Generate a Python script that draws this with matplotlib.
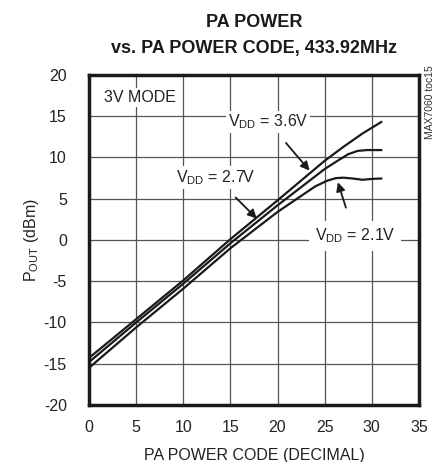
import matplotlib
matplotlib.use("Agg")
import matplotlib.pyplot as plt

FONT = ["Liberation Sans Narrow", "Liberation Sans", "DejaVu Sans"]
plt.rcParams["font.family"] = FONT
plt.rcParams["mathtext.fontset"] = "custom"
plt.rcParams["mathtext.rm"] = "Liberation Sans"
plt.rcParams["mathtext.it"] = "Liberation Sans"
plt.rcParams["axes.unicode_minus"] = False

# PA power code vs output power (dBm)
code_36 = [0, 5, 10, 15, 20, 25, 27, 29, 31]
pout_36 = [-14.3, -9.6, -4.9, 0.1, 4.8, 9.6, 11.3, 12.9, 14.3]

code_27 = [0, 5, 10, 15, 20, 25, 26.5, 27.5, 28.5, 29.5, 31]
pout_27 = [-14.8, -10.0, -5.3, -0.4, 4.2, 8.6, 9.7, 10.4, 10.8, 10.9, 10.9]

code_21 = [0, 5, 10, 15, 20, 24, 25.3, 26.2, 27, 28, 29, 30, 31]
pout_21 = [-15.5, -10.6, -5.9, -1.0, 3.4, 6.5, 7.2, 7.5, 7.55, 7.45, 7.3, 7.4, 7.45]

xticks = [0, 5, 10, 15, 20, 25, 30, 35]
yticks = [-20, -15, -10, -5, 0, 5, 10, 15, 20]

fig = plt.figure(figsize=(4.41, 4.62), dpi=100)
ax = fig.add_axes([0.2018, 0.1234, 0.7482, 0.7143])

for c, p in [(code_36, pout_36), (code_27, pout_27), (code_21, pout_21)]:
    ax.plot(c, p, color="#1a1a1a", lw=1.6, zorder=3)

ax.set_xlim(0, 35)
ax.set_ylim(-20, 20)
ax.set_xticks(xticks)
ax.set_yticks(yticks)
ax.tick_params(length=0, labelsize=11.5, colors="#222222")
ax.tick_params(axis="y", pad=16)
ax.tick_params(axis="x", pad=11)
ax.grid(True, color="#555555", lw=0.9)
ax.set_axisbelow(True)
for s in ax.spines.values():
    s.set_linewidth(2.5)
    s.set_color("#1a1a1a")

ax.set_xlabel("PA POWER CODE (DECIMAL)", fontsize=11.5, color="#222222", labelpad=9)
ax.set_ylabel(r"P$_{\mathrm{OUT}}$ (dBm)", fontsize=11.5, color="#222222", labelpad=2)

fig.text(0.577, 0.952, "PA POWER", ha="center", va="center",
         fontsize=13, fontweight="bold", color="#1a1a1a")
fig.text(0.577, 0.895, "vs. PA POWER CODE, 433.92MHz", ha="center", va="center",
         fontsize=13, fontweight="bold", color="#1a1a1a")
fig.text(0.975, 0.78, "MAX7060 toc15", rotation=90, ha="center", va="center",
         fontsize=7.5, color="#333333")

box = dict(facecolor="white", edgecolor="none", pad=1.5)
ax.text(1.6, 17.3, "3V MODE", fontsize=11.5, va="center", ha="left",
        color="#222222", bbox=box, zorder=4)

arrow = dict(arrowstyle="-|>", color="#1a1a1a", lw=1.3, mutation_scale=13)
ax.annotate(r"V$_{\mathrm{DD}}$ = 3.6V", xy=(23.4, 8.4), xytext=(19.0, 14.3),
            fontsize=11.5, ha="center", va="center", color="#222222",
            bbox=box, zorder=4,
            arrowprops=dict(arrow, shrinkA=9, shrinkB=0))
ax.annotate(r"V$_{\mathrm{DD}}$ = 2.7V", xy=(17.8, 2.6), xytext=(13.4, 7.6),
            fontsize=11.5, ha="center", va="center", color="#222222",
            bbox=box, zorder=4,
            arrowprops=dict(arrow, shrinkA=9, shrinkB=0))
ax.annotate(r"V$_{\mathrm{DD}}$ = 2.1V", xy=(26.4, 7.0), xytext=(28.2, 0.5),
            fontsize=11.5, ha="center", va="center", color="#222222",
            bbox=dict(facecolor="white", edgecolor="none", pad=4), zorder=4,
            arrowprops=dict(arrow, shrinkA=10, shrinkB=0))

fig.savefig("out.png", dpi=100)
